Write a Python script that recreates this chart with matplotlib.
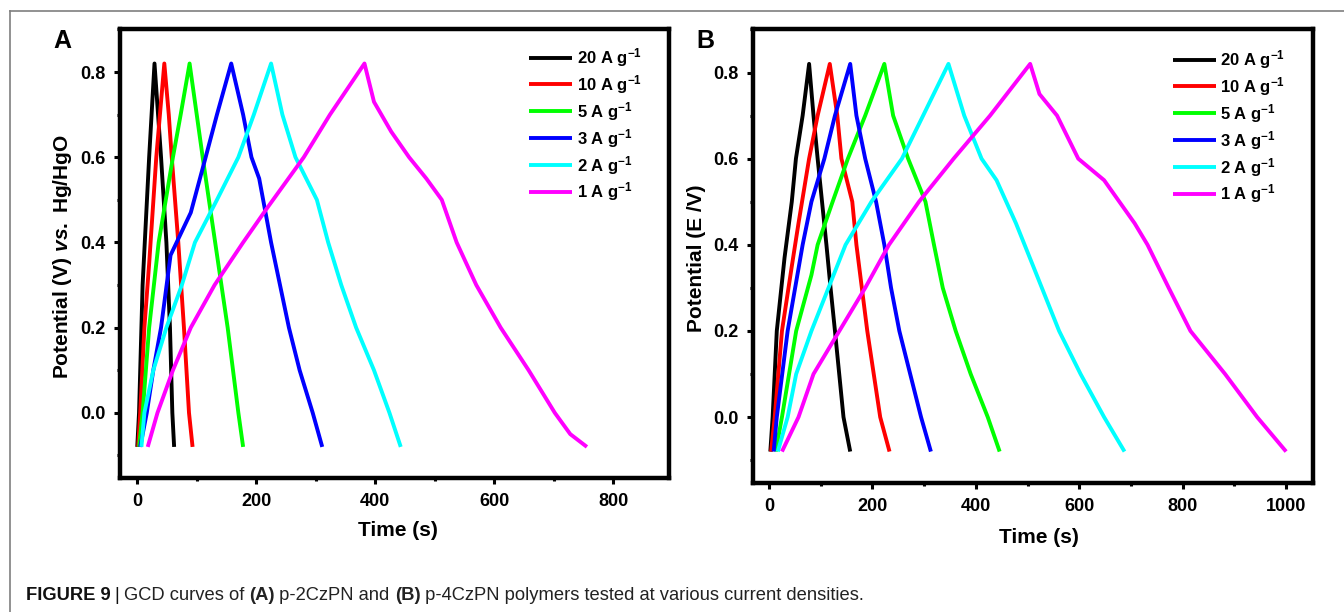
import matplotlib
matplotlib.use("Agg")
import matplotlib.pyplot as plt
from matplotlib.lines import Line2D
from matplotlib.ticker import MultipleLocator, FormatStrFormatter

plt.rcParams['font.family'] = ['Liberation Sans', 'DejaVu Sans']
plt.rcParams['font.weight'] = 'bold'
plt.rcParams['mathtext.fontset'] = 'custom'
plt.rcParams['mathtext.rm'] = 'Liberation Sans:bold'
plt.rcParams['mathtext.bf'] = 'Liberation Sans:bold'
plt.rcParams['mathtext.it'] = 'Liberation Sans:bold:italic'
plt.rcParams['mathtext.default'] = 'bf'

labels = ['20 A g$^{-1}$', '10 A g$^{-1}$', '5 A g$^{-1}$', '3 A g$^{-1}$', '2 A g$^{-1}$', '1 A g$^{-1}$']
colors = ['black', 'red', '#00ff00', '#0000ff', '#00ffff', '#ff00ff']

# panel A : p-2CzPN  (time in s, potential in V)
tA_20 = [0, 3, 9, 20, 29, 40, 49, 55, 59, 62]
vA_20 = [-0.08, 0.0, 0.3, 0.6, 0.82, 0.6, 0.4, 0.2, 0.0, -0.08]
tA_10 = [1.5, 5, 12, 20, 32, 45.5, 53, 58, 69, 78.5, 87, 93]
vA_10 = [-0.08, 0.0, 0.2, 0.35, 0.6, 0.82, 0.7, 0.6, 0.4, 0.2, 0.0, -0.08]
tA_5 = [3, 9, 20, 36, 60, 73, 88, 100, 110, 131, 152, 170, 178]
vA_5 = [-0.08, 0.0, 0.2, 0.4, 0.6, 0.7, 0.82, 0.7, 0.6, 0.4, 0.2, 0.0, -0.08]
tA_3 = [5, 16, 27, 40, 56, 90, 115, 134, 158, 178, 192, 205, 225, 240, 255, 273, 295, 311]
vA_3 = [-0.08, 0.0, 0.1, 0.2, 0.37, 0.47, 0.6, 0.7, 0.82, 0.7, 0.6, 0.55, 0.4, 0.3, 0.2, 0.1, 0.0, -0.08]
tA_2 = [7, 12, 27, 49, 75, 97, 134, 170, 196, 225, 244, 266, 302, 321, 343, 368, 398, 424, 443]
vA_2 = [-0.08, 0.0, 0.1, 0.2, 0.3, 0.4, 0.5, 0.6, 0.7, 0.82, 0.7, 0.6, 0.5, 0.4, 0.3, 0.2, 0.1, 0.0, -0.08]
tA_1 = [17.6, 34, 60, 90, 130, 178, 218, 280, 324, 382, 398, 427, 457, 486, 512, 537, 570, 611, 658, 702, 728, 756]
vA_1 = [-0.08, 0.0, 0.1, 0.2, 0.3, 0.4, 0.48, 0.6, 0.7, 0.82, 0.73, 0.66, 0.6, 0.55, 0.5, 0.4, 0.3, 0.2, 0.1, 0.0, -0.05, -0.08]

# panel B : p-4CzPN
tB_20 = [2.5, 7, 15, 30, 44, 52, 65, 77.5, 86, 94, 111, 119, 127.5, 144, 157]
vB_20 = [-0.08, 0.0, 0.2, 0.37, 0.5, 0.6, 0.7, 0.82, 0.7, 0.6, 0.4, 0.3, 0.2, 0.0, -0.08]
tB_10 = [4, 11, 25, 44, 57, 77.5, 94, 117.5, 132, 140, 161, 169, 190, 215, 233]
vB_10 = [-0.08, 0.0, 0.2, 0.35, 0.45, 0.6, 0.7, 0.82, 0.7, 0.6, 0.5, 0.4, 0.2, 0.0, -0.08]
tB_5 = [13, 25, 52.5, 82, 94, 123, 152.5, 186, 223, 240, 269, 302.5, 319, 336, 361, 390, 423, 446]
vB_5 = [-0.08, 0.0, 0.2, 0.33, 0.4, 0.5, 0.6, 0.7, 0.82, 0.7, 0.6, 0.5, 0.4, 0.3, 0.2, 0.1, 0.0, -0.08]
tB_3 = [9, 15, 36, 65, 82, 107, 127.5, 157, 169, 186, 207, 223, 236, 252, 294, 313]
vB_3 = [-0.08, 0.0, 0.2, 0.4, 0.5, 0.6, 0.7, 0.82, 0.7, 0.6, 0.5, 0.4, 0.3, 0.2, 0.0, -0.08]
tB_2 = [17, 36, 52.5, 82, 115, 148, 198, 257, 298, 347, 377.5, 411, 440, 477.5, 511, 561, 602.5, 648, 687.5]
vB_2 = [-0.08, 0.0, 0.1, 0.2, 0.3, 0.4, 0.5, 0.6, 0.7, 0.82, 0.7, 0.6, 0.55, 0.45, 0.35, 0.2, 0.1, 0.0, -0.08]
tB_1 = [25, 57, 86, 136, 186, 232, 290, 357, 427.5, 505, 523, 557, 598, 648, 707, 732, 773, 815, 882, 944, 1000]
vB_1 = [-0.08, 0.0, 0.1, 0.2, 0.3, 0.4, 0.5, 0.6, 0.7, 0.82, 0.75, 0.7, 0.6, 0.55, 0.45, 0.4, 0.3, 0.2, 0.1, 0.0, -0.08]

seriesA = [(tA_20, vA_20), (tA_10, vA_10), (tA_5, vA_5), (tA_3, vA_3), (tA_2, vA_2), (tA_1, vA_1)]
seriesB = [(tB_20, vB_20), (tB_10, vB_10), (tB_5, vB_5), (tB_3, vB_3), (tB_2, vB_2), (tB_1, vB_1)]

fig = plt.figure(figsize=(13.44, 6.12), dpi=100)

axA = fig.add_axes([120/1344, 1 - 478/612, 549/1344, 449/612])
axB = fig.add_axes([753/1344, 1 - 483/612, 560/1344, 454/612])


def style_axes(ax, series, xmax, xlim, ylabel, leg_anchor):
    for (t, v), c, lab in zip(series, colors, labels):
        ax.plot(t, v, color=c, lw=2.8, label=lab, solid_joinstyle='round', solid_capstyle='butt')
    ax.set_xlim(*xlim)
    ax.set_ylim(-0.153, 0.901)
    ax.xaxis.set_major_locator(MultipleLocator(200))
    ax.xaxis.set_minor_locator(MultipleLocator(100))
    ax.yaxis.set_major_locator(MultipleLocator(0.2))
    ax.yaxis.set_minor_locator(MultipleLocator(0.1))
    ax.yaxis.set_major_formatter(FormatStrFormatter('%.1f'))
    ax.set_xticks([x for x in range(0, xmax + 1, 200)])
    for s in ax.spines.values():
        s.set_linewidth(3.2)
    ax.tick_params(which='major', direction='out', length=4.5, width=2.2, labelsize=13, pad=6)
    ax.tick_params(which='minor', direction='out', length=2.5, width=2.2)
    ax.set_xlabel('Time (s)', fontsize=15, fontweight='bold')
    ax.set_ylabel(ylabel, fontsize=15, fontweight='bold')
    ax.legend(loc='upper left', bbox_to_anchor=leg_anchor, frameon=False, fontsize=12,
              handlelength=2.6, handletextpad=0.25, labelspacing=0.24, borderpad=0, borderaxespad=0)


style_axes(axA, seriesA, 800, (-29, 894), r'Potential (V) $\mathit{vs.}$ Hg/HgO', (0.745, 0.962))
style_axes(axB, seriesB, 1000, (-31, 1052), 'Potential (E /V)', (0.75, 0.958))

axA.xaxis.set_label_coords(0.506, -0.095)
axB.xaxis.set_label_coords(0.51, -0.1)
axA.yaxis.set_label_coords(-0.083, 0.494)
axB.yaxis.set_label_coords(-0.084, 0.496)

fig.text(53/1344, 1 - 48/612, 'A', fontsize=18, fontweight='bold', ha='left', va='baseline')
fig.text(696/1344, 1 - 48/612, 'B', fontsize=18, fontweight='bold', ha='left', va='baseline')

# page border (cut off on the right and bottom)
fig.add_artist(Line2D([9.5/1344, 1], [1 - 11/612, 1 - 11/612], transform=fig.transFigure, color='#7f7f7f', lw=1.2))
fig.add_artist(Line2D([9.5/1344, 9.5/1344], [0, 1 - 11/612], transform=fig.transFigure, color='#7f7f7f', lw=1.2))

# caption
cy = 1 - 596/612
cap1 = fig.text(26/1344, cy, 'FIGURE 9', fontsize=13.2, fontweight='bold', ha='left', va='center', color='#111111')
r = fig.canvas.get_renderer()
bb = cap1.get_window_extent(r)
cap2 = fig.text((bb.x1 + 4)/1344, cy, '|', fontsize=13.2, fontweight='normal', ha='left', va='center', color='#111111')
bb = cap2.get_window_extent(r)
parts = [('GCD curves of ', 'normal'), ('(A)', 'bold'), (' p-2CzPN and ', 'normal'), ('(B)', 'bold'),
         (' p-4CzPN polymers tested at various current densities.', 'normal')]
x = bb.x1 + 4
for txt, w in parts:
    t = fig.text(x/1344, cy, txt, fontsize=13.2, fontweight=w, ha='left', va='center', color='#222222')
    x = t.get_window_extent(r).x1

fig.savefig('out.png', dpi=100)
